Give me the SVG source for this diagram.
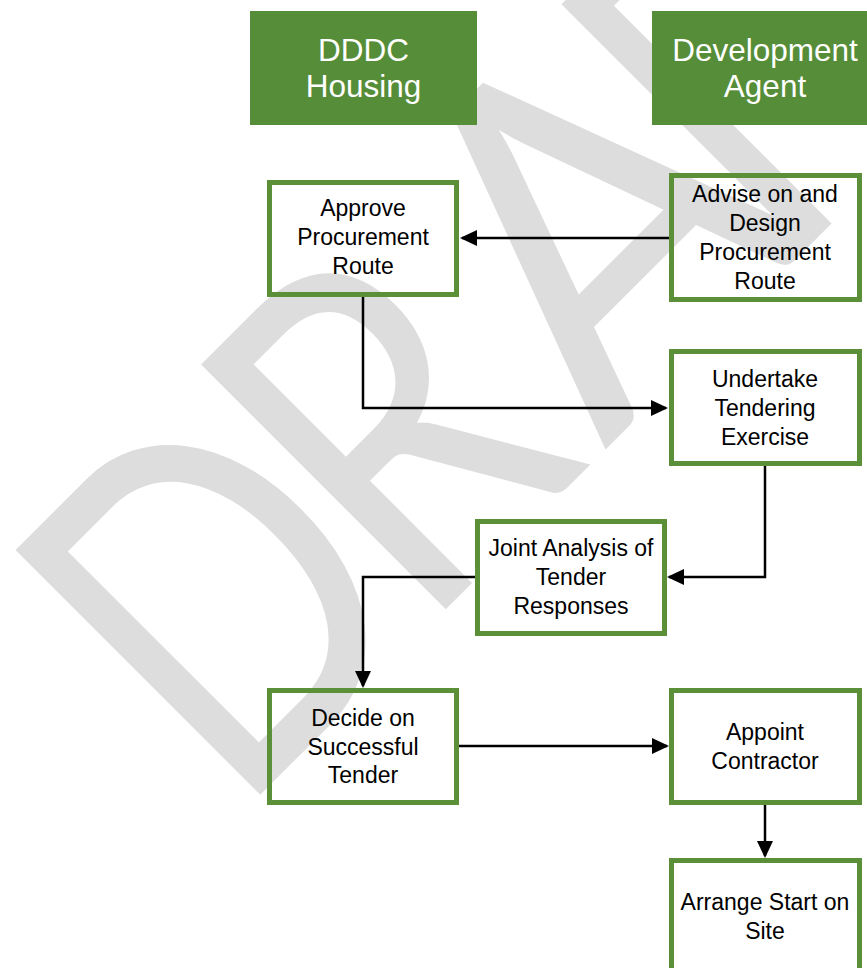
<svg xmlns="http://www.w3.org/2000/svg" width="867" height="968" viewBox="0 0 867 968">
<style>
.wm text{font-family:Lato,"Open Sans",sans-serif;font-size:483px;fill:#dddddd;}
.hdr rect{fill:#568d38;}
.hdr text{font-family:"Liberation Sans",Arial,sans-serif;font-size:31.5px;fill:#ffffff;text-anchor:middle;}
.node rect{fill:none;stroke:#5b9039;stroke-width:5;}
.node text{font-family:"Liberation Sans",Arial,sans-serif;font-size:23px;fill:#000000;text-anchor:middle;}
.conn path{fill:none;stroke:#000000;stroke-width:2.5;}
</style>
<defs>
<marker id="ah" markerUnits="userSpaceOnUse" markerWidth="17" markerHeight="16" viewBox="0 0 17 16" refX="15" refY="8" orient="auto">
<path d="M0,0 L17,8 L0,16 z" fill="#000000"/>
</marker>
</defs>
<g id="watermark" class="wm" transform="rotate(-45)">
<text transform="translate(-412,746) scale(0.77,1)">D</text>
<text transform="translate(-151,746) scale(0.8,1)">R</text>
<text transform="translate(109,746) scale(0.93,1)">A</text>
<text transform="translate(360,746) scale(0.77,1)">F</text>
<text transform="translate(546,746) scale(0.77,1)">T</text>
</g>
<g id="hdr-dddc" class="hdr">
<rect x="250" y="11" width="227" height="114"/>
<text x="363.5" y="61">DDDC</text>
<text x="363.5" y="97">Housing</text>
</g>
<g id="hdr-agent" class="hdr">
<rect x="652" y="11" width="226" height="114"/>
<text x="765" y="61">Development</text>
<text x="765" y="97">Agent</text>
</g>
<g id="n-approve" class="node">
<rect x="269.5" y="182.5" width="187" height="112"/>
<text x="363" y="216">Approve</text>
<text x="363" y="245">Procurement</text>
<text x="363" y="274">Route</text>
</g>
<g id="n-advise" class="node">
<rect x="671.5" y="175.5" width="188" height="124"/>
<text x="765" y="202">Advise on and</text>
<text x="765" y="231">Design</text>
<text x="765" y="260">Procurement</text>
<text x="765" y="289">Route</text>
</g>
<g id="n-undertake" class="node">
<rect x="671.5" y="351.5" width="188" height="112"/>
<text x="765" y="387">Undertake</text>
<text x="765" y="416">Tendering</text>
<text x="765" y="445">Exercise</text>
</g>
<g id="n-joint" class="node">
<rect x="477.5" y="521.5" width="187" height="112"/>
<text x="571" y="556">Joint Analysis of</text>
<text x="571" y="585">Tender</text>
<text x="571" y="614">Responses</text>
</g>
<g id="n-decide" class="node">
<rect x="269.5" y="690.5" width="187" height="112"/>
<text x="363" y="726">Decide on</text>
<text x="363" y="755">Successful</text>
<text x="363" y="783">Tender</text>
</g>
<g id="n-appoint" class="node">
<rect x="671.5" y="690.5" width="188" height="112"/>
<text x="765" y="740">Appoint</text>
<text x="765" y="769">Contractor</text>
</g>
<g id="n-arrange" class="node">
<rect x="671.5" y="860.5" width="188" height="112"/>
<text x="765" y="910">Arrange Start on</text>
<text x="765" y="939">Site</text>
</g>
<g id="connectors" class="conn">
<path d="M669,238 H462" marker-end="url(#ah)"/>
<path d="M363,297 V408 H666" marker-end="url(#ah)"/>
<path d="M765,466 V577 H669" marker-end="url(#ah)"/>
<path d="M475,577 H363 V686" marker-end="url(#ah)"/>
<path d="M459,746 H667" marker-end="url(#ah)"/>
<path d="M765,805 V856" marker-end="url(#ah)"/>
</g>
</svg>
